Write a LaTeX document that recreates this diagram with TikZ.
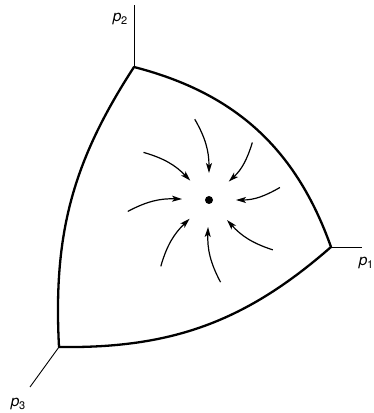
\documentclass[tikz,border=0pt]{standalone}
\usepackage{fontspec}
\setmainfont{TeX Gyre Heros}
\usetikzlibrary{arrows.meta, calc}

\newcommand{\plab}[1]{{\itshape p}\kern-0.3pt\raisebox{-0.35ex}{\fontsize{11}{12}\selectfont #1}}

\begin{document}
\begin{tikzpicture}[
    x=1pt, y=1pt, >={Stealth[length=10pt, width=6pt, inset=2.5pt]},
    edge/.style={line width=2.3pt, line join=round},
    axis/.style={line width=0.9pt},
    flow/.style={->, line width=1.2pt},
    every node/.style={font=\fontsize{15.5}{17}\selectfont, inner sep=0pt}
]
\useasboundingbox (0,0) rectangle (374,413);

\coordinate (vert_p2) at (134,346);
\coordinate (vert_p1) at (331,166);
\coordinate (vert_p3) at (59,66);
\coordinate (end_p2) at (134,408);
\coordinate (end_p1) at (362,166);
\coordinate (end_p3) at (30,26);

\node (lab_p2) at (120,394) {\plab{2}};
\node (lab_p1) at (366,150) {\plab{1}};
\node (lab_p3) at (18,9) {\plab{3}};

\draw[axis] (vert_p2) -- (end_p2);
\draw[axis] (vert_p1) -- (end_p1);
\draw[axis] (vert_p3) -- (end_p3);

\draw[edge] (vert_p2) to[bend left=28] (vert_p1) to[bend left=21] (vert_p3) to[bend left=18] (vert_p2) -- cycle;

\node (eq) [circle, fill, minimum size=8pt] at (209,213) {};

\foreach \a/\r [count=\i] in {90/82, 134/81, 43/72, 178/82, 0/72, 224/82, 268/83, 312/81} {
    \coordinate (from\i) at ($(eq)+(\a+10:\r)$);
    \coordinate (to\i) at ($(eq)+(\a:27)$);
    \draw[flow] (from\i) to[out=\a+210, in=\a] (to\i);
}
\end{tikzpicture}
\end{document}
